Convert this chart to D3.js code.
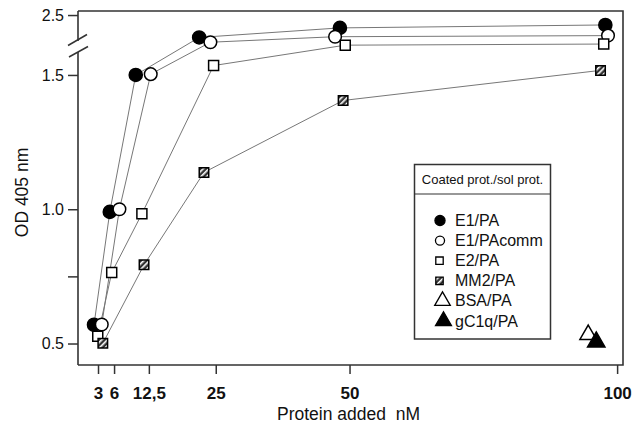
<!DOCTYPE html>
<html>
<head>
<meta charset="utf-8">
<script src="https://cdn.jsdelivr.net/npm/d3@7"></script>
<style>
  body { margin: 0; background: #fff; }
  svg { font-family: "Liberation Sans", Arial, Helvetica, sans-serif; }
</style>
</head>
<body>
<svg id="chart" width="641" height="423"></svg>
<script>
// --- data ---
const xTicks = [3, 6, 12.5, 25, 50, 100];
const xTickLabels = ["3", "6", "12,5", "25", "50", "100"];
const yTicks = [0.5, 0.75, 1.0, 1.5, 2.5];
const yTickLabels = ["0.5", "", "1.0", "1.5", "2.5"];

const e1X = [2.25, 5.2, 10.05, 21.9, 48.2, 97.8];
const e1Y = [0.57, 0.99, 1.50, 1.89, 2.15, 2.23];
const e1commX = [3.7, 7.0, 12.85, 24.0, 47.3, 98.3];
const e1commY = [0.571, 1.0, 1.503, 1.76, 1.91, 1.94];
const e2X = [2.95, 5.56, 11.2, 24.6, 49.2, 97.5];
const e2Y = [0.527, 0.764, 0.983, 1.535, 1.68, 1.71];
const mm2X = [3.9, 11.6, 22.8, 48.8, 96.9];
const mm2Y = [0.501, 0.793, 1.137, 1.405, 1.517];
const bsaX = [94.6];
const bsaY = [0.533];
const gc1qX = [96.1];
const gc1qY = [0.506];

const legendTitle = "Coated prot./sol prot.";
const legendNames = ["E1/PA", "E1/PAcomm", "E2/PA", "MM2/PA", "BSA/PA", "gC1q/PA"];

const frame = {left: 78, right: 623, top: 11, bottom: 365};
const svg = d3.select("#chart");

// hatched fill for MM2
const defs = svg.append("defs");
const pat = defs.append("pattern")
	.attr("id", "hatch")
	.attr("patternUnits", "userSpaceOnUse")
	.attr("width", 4).attr("height", 4)
	.attr("patternTransform", "rotate(45)");
pat.append("rect").attr("width", 4).attr("height", 4).attr("fill", "#333");
pat.append("rect").attr("x", 0).attr("width", 1.6).attr("height", 4).attr("fill", "#fff");

const x = d3.scaleLinear().domain([-0.74, 101.1]).range([frame.left, frame.right]);
// broken axis: linear below the break, compressed above
const y = d3.scaleLinear().domain([0.42, 1.6, 2.61]).range([frame.bottom, 48.1, frame.top]);

// frame (left side drawn separately because of the break)
const axisCol = "#333";
svg.append("path")
	.attr("d", `M${frame.left},${frame.top}H${frame.right}V${frame.bottom}H${frame.left}`)
	.attr("fill", "none").attr("stroke", axisCol).attr("stroke-width", 1.6);
svg.append("line").attr("x1", frame.left).attr("x2", frame.left)
	.attr("y1", frame.top).attr("y2", 41)
	.attr("stroke", axisCol).attr("stroke-width", 1.6);
svg.append("line").attr("x1", frame.left).attr("x2", frame.left)
	.attr("y1", 52).attr("y2", frame.bottom)
	.attr("stroke", axisCol).attr("stroke-width", 1.6);
// break slashes
[[68, 45.5, 87, 34.5], [69, 57, 88, 46.5]].forEach(s => {
	svg.append("line").attr("x1", s[0]).attr("y1", s[1]).attr("x2", s[2]).attr("y2", s[3])
		.attr("stroke", axisCol).attr("stroke-width", 1.5);
});

// axes
const gy = svg.append("g")
	.attr("transform", `translate(${frame.left},0)`)
	.call(d3.axisLeft(y).tickValues(yTicks).tickSize(10).tickPadding(4)
		.tickFormat((d, i) => yTickLabels[i]));
gy.select(".domain").remove();
gy.selectAll(".tick line").attr("stroke", axisCol).attr("stroke-width", 1.5);
gy.selectAll(".tick text").attr("font-size", 16).attr("fill", "#111")
	.attr("font-family", "Liberation Sans, Arial, sans-serif");

const gx = svg.append("g")
	.attr("transform", `translate(0,${frame.bottom})`)
	.call(d3.axisBottom(x).tickValues(xTicks).tickSize(9).tickPadding(13)
		.tickFormat((d, i) => xTickLabels[i]));
gx.select(".domain").remove();
gx.selectAll(".tick line").attr("stroke", axisCol).attr("stroke-width", 1.5);
gx.selectAll(".tick text").attr("font-size", 17).attr("font-weight", "bold").attr("fill", "#111")
	.attr("font-family", "Liberation Sans, Arial, sans-serif");

// axis titles
svg.append("text")
	.attr("x", 348.5).attr("y", 420)
	.attr("text-anchor", "middle").attr("font-size", 17.5).attr("fill", "#111")
	.text("Protein added\u00a0\u00a0nM");
svg.append("text")
	.attr("transform", "translate(28,192.5) rotate(-90)")
	.attr("text-anchor", "middle").attr("font-size", 17.5).attr("fill", "#111")
	.text("OD 405 nm");

// series
const series = [
	{xs: e1X, ys: e1Y, sym: d3.symbolCircle, size: 135, fill: "#000", line: true},
	{xs: e1commX, ys: e1commY, sym: d3.symbolCircle, size: 125, fill: "#fff", line: true},
	{xs: e2X, ys: e2Y, sym: d3.symbolSquare, size: 100, fill: "#fff", line: true},
	{xs: mm2X, ys: mm2Y, sym: d3.symbolSquare, size: 90, fill: "url(#hatch)", line: true},
	{xs: bsaX, ys: bsaY, sym: d3.symbolTriangle, size: 120, fill: "#fff", line: false},
	{xs: gc1qX, ys: gc1qY, sym: d3.symbolTriangle, size: 130, fill: "#000", line: false}
];

const lineGen = d3.line().x(d => x(d[0])).y(d => y(d[1]));
series.filter(s => s.line).forEach(s => {
	svg.append("path")
		.datum(d3.zip(s.xs, s.ys))
		.attr("fill", "none").attr("stroke", "#777").attr("stroke-width", 1)
		.attr("d", lineGen);
});
series.forEach(s => {
	svg.append("g").selectAll("path")
		.data(d3.zip(s.xs, s.ys))
		.join("path")
		.attr("transform", d => `translate(${x(d[0])},${y(d[1])})`)
		.attr("d", d3.symbol(s.sym, s.size))
		.attr("fill", s.fill)
		.attr("stroke", "#000").attr("stroke-width", 1.5);
});

// legend
const lg = svg.append("g");
lg.append("rect").attr("x", 414.5).attr("y", 164.5).attr("width", 136).attr("height", 174.5)
	.attr("fill", "#fff").attr("stroke", axisCol).attr("stroke-width", 1.5);
lg.append("line").attr("x1", 414.5).attr("x2", 550.5).attr("y1", 194).attr("y2", 194)
	.attr("stroke", axisCol).attr("stroke-width", 1.2);
lg.append("text").attr("x", 482.5).attr("y", 184)
	.attr("text-anchor", "middle").attr("font-size", 13).attr("fill", "#111")
	.text(legendTitle);
const legSizes = [80, 65, 55, 55, 105, 110];
const legMarkX = [440, 440, 439.5, 439.5, 442.5, 443.5];
legendNames.forEach((name, i) => {
	const base = 226 + i * 20.1;
	const s = series[i];
	lg.append("path")
		.attr("transform", `translate(${legMarkX[i]},${base - 5.5})`)
		.attr("d", d3.symbol(s.sym, legSizes[i]))
		.attr("fill", s.fill).attr("stroke", "#000").attr("stroke-width", 1.3);
	lg.append("text").attr("x", 455).attr("y", base)
		.attr("font-size", 16).attr("fill", "#111").text(name);
});
</script>
</body>
</html>
